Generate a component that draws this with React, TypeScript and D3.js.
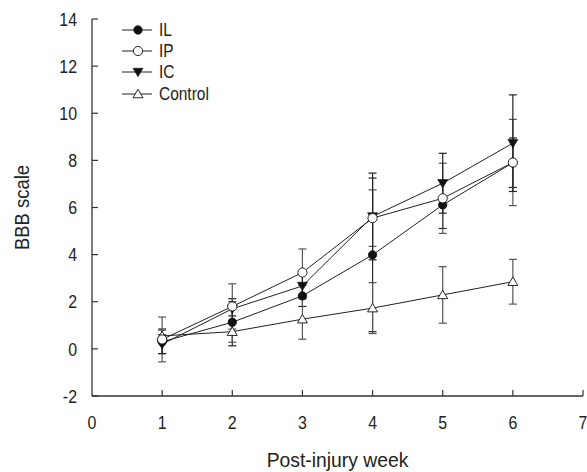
import React from "react";
import * as d3 from "d3";

const weeks = [1, 2, 3, 4, 5, 6];
const seriesNames = ["IL", "IP", "IC", "Control"];
const ilMean = [0.3, 1.13, 2.25, 3.99, 6.11, 7.9];
const ilSd = [0.5, 1.0, 0.45, 3.26, 1.0, 1.05];
const ipMean = [0.4, 1.8, 3.24, 5.55, 6.39, 7.91];
const ipSd = [0.95, 0.96, 1.0, 1.2, 1.49, 1.83];
const icMean = [0.2, 1.7, 2.67, 5.62, 7.03, 8.73];
const icSd = [0.4, 0.3, 0.5, 1.84, 1.27, 2.05];
const ctrlMean = [0.55, 0.73, 1.26, 1.73, 2.29, 2.85];
const ctrlSd = [0.3, 0.45, 0.85, 1.08, 1.2, 0.95];
const xTicks = [0, 1, 2, 3, 4, 5, 6, 7];
const yTicks = [-2, 0, 2, 4, 6, 8, 10, 12, 14];

const W = 587;
const H = 472;
const FONT = "'Liberation Sans', Arial, sans-serif";

type Shape = "filledCircle" | "openCircle" | "filledTriDown" | "openTriUp";

const shapes: Shape[] = ["filledCircle", "openCircle", "filledTriDown", "openTriUp"];
const means = [ilMean, ipMean, icMean, ctrlMean];
const sds = [ilSd, ipSd, icSd, ctrlSd];
const barColors = ["#222", "#555", "#222", "#555"];

function T({
  x,
  y,
  size,
  anchor = "start",
  sx = 0.86,
  rotate = 0,
  dy = "0",
  children,
}: {
  x: number;
  y: number;
  size: number;
  anchor?: "start" | "middle" | "end";
  sx?: number;
  rotate?: number;
  dy?: string;
  children: React.ReactNode;
}) {
  return (
    <text
      transform={`translate(${x},${y}) rotate(${rotate}) scale(${sx},1)`}
      textAnchor={anchor}
      dy={dy}
      fontSize={size}
      fill="#222"
    >
      {children}
    </text>
  );
}

function Marker({ shape, x, y }: { shape: Shape; x: number; y: number }) {
  const stroke = "#111";
  if (shape === "filledCircle") return <circle cx={x} cy={y} r={4.2} fill="#111" stroke={stroke} strokeWidth={0.8} />;
  if (shape === "openCircle") return <circle cx={x} cy={y} r={4.6} fill="#fff" stroke={stroke} strokeWidth={0.9} />;
  if (shape === "filledTriDown") {
    const s = 5;
    return <path d={`M${x - s},${y - s * 0.75} L${x + s},${y - s * 0.75} L${x},${y + s * 0.95} Z`} fill="#111" stroke={stroke} strokeWidth={0.6} />;
  }
  const s = 5;
  return <path d={`M${x - s},${y + s * 0.75} L${x + s},${y + s * 0.75} L${x},${y - s * 0.95} Z`} fill="#fff" stroke={stroke} strokeWidth={0.9} />;
}

export default function App() {
  const x = d3.scaleLinear().domain([0, 7]).range([92, 583]);
  const y = d3.scaleLinear().domain([-2, 14]).range([396, 19]);
  const line = d3
    .line<number>()
    .x((_, i) => x(weeks[i]))
    .y((d) => y(d));

  const legendY = [30, 51, 72, 94];

  return (
    <svg width={W} height={H} style={{ position: "absolute", left: 0, top: 0, background: "#fff" }} fontFamily={FONT}>
      {/* axes */}
      <line x1={x(0)} x2={x(0)} y1={y(14)} y2={y(-2)} stroke="#333" strokeWidth={1.3} />
      <line x1={x(0)} x2={x(7)} y1={y(-2)} y2={y(-2)} stroke="#333" strokeWidth={1.3} />
      {yTicks.map((t) => (
        <g key={"y" + t}>
          <line x1={x(0)} x2={x(0) + 6} y1={y(t)} y2={y(t)} stroke="#333" strokeWidth={1.2} />
          <T x={77} y={y(t)} dy="0.36em" anchor="end" size={18.5}>
            {t}
          </T>
        </g>
      ))}
      {xTicks.map((t) => (
        <g key={"x" + t}>
          {t > 0 && <line x1={x(t)} x2={x(t)} y1={y(-2)} y2={y(-2) - 6} stroke="#333" strokeWidth={1.2} />}
          <T x={x(t)} y={429} anchor="middle" size={18.5}>
            {t}
          </T>
        </g>
      ))}
      <T x={(x(0) + x(7)) / 2} y={467} anchor="middle" size={21} sx={0.92}>
        Post-injury week
      </T>
      <T x={28.5} y={207.5} rotate={-90} anchor="middle" size={21} sx={0.88}>
        BBB scale
      </T>

      {/* error bars */}
      {means.map((m, si) =>
        m.map((v, i) => {
          const cx = x(weeks[i]);
          const top = y(v + sds[si][i]);
          const bot = y(v - sds[si][i]);
          return (
            <g key={`e${si}-${i}`} stroke={barColors[si]} strokeWidth={1.2}>
              <line x1={cx} x2={cx} y1={top} y2={bot} />
              <line x1={cx - 4} x2={cx + 4} y1={top} y2={top} />
              <line x1={cx - 4} x2={cx + 4} y1={bot} y2={bot} />
            </g>
          );
        })
      )}

      {/* lines */}
      {means.map((m, si) => (
        <path key={"l" + si} d={line(m) || ""} fill="none" stroke="#222" strokeWidth={1} />
      ))}

      {/* markers */}
      {[3, 0, 2, 1].map((si) =>
        means[si].map((v, i) => <Marker key={`m${si}-${i}`} shape={shapes[si]} x={x(weeks[i])} y={y(v)} />)
      )}

      {/* legend */}
      {seriesNames.map((name, i) => (
        <g key={"lg" + name}>
          <line x1={122} x2={152} y1={legendY[i]} y2={legendY[i]} stroke="#222" strokeWidth={1} />
          <Marker shape={shapes[i]} x={138} y={legendY[i]} />
          <T x={159} y={legendY[i]} dy="0.36em" size={18}>
            {name}
          </T>
        </g>
      ))}
    </svg>
  );
}
